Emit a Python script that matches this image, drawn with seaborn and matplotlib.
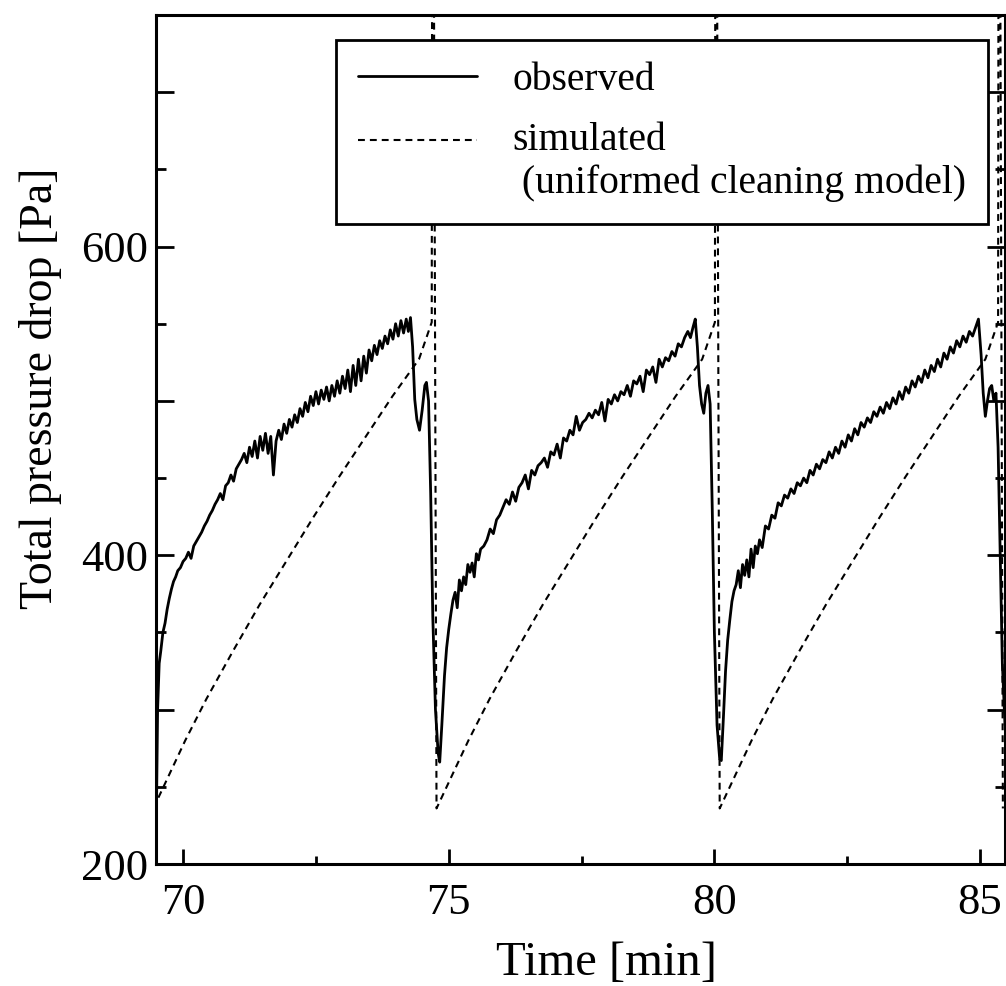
import matplotlib
matplotlib.use("Agg")
import matplotlib.pyplot as plt
from matplotlib.lines import Line2D
from matplotlib.legend_handler import HandlerLine2D
from matplotlib.ticker import MultipleLocator
import numpy as np
import pandas as pd
import seaborn as sns

# ---------------- data ----------------
obs_time = [
    # cycle 1
    69.50, 69.52, 69.55, 69.58, 69.62, 69.66, 69.70, 69.74, 69.78, 69.82, 69.86, 69.90, 69.95,
    70.00, 70.05, 70.10, 70.15, 70.20, 70.25, 70.30, 70.35, 70.40, 70.45, 70.50, 70.55, 70.60,
    70.65, 70.70, 70.75, 70.80, 70.85, 70.90, 70.95, 71.00, 71.05, 71.10, 71.15, 71.20, 71.25,
    71.30, 71.35, 71.40, 71.45, 71.50, 71.55, 71.60, 71.65, 71.70, 71.75, 71.80, 71.85, 71.90,
    71.95, 72.00, 72.05, 72.10, 72.15, 72.20, 72.25, 72.30, 72.35, 72.40, 72.45, 72.50, 72.55,
    72.60, 72.65, 72.70, 72.75, 72.80, 72.85, 72.90, 72.95, 73.00, 73.05, 73.10, 73.15, 73.20,
    73.25, 73.30, 73.35, 73.40, 73.45, 73.50, 73.55, 73.60, 73.65, 73.70, 73.75, 73.80, 73.85,
    73.90, 73.95, 74.00, 74.05, 74.10, 74.15, 74.20, 74.24, 74.28,
    74.32, 74.36, 74.40, 74.45, 74.50, 74.55, 74.58, 74.62, 74.66, 74.70, 74.75, 74.80, 74.83,
    # cycle 2
    74.87, 74.92, 74.96, 75.00, 75.04, 75.08, 75.12, 75.16, 75.20, 75.24, 75.28, 75.32, 75.36,
    75.40, 75.44, 75.48, 75.52, 75.56, 75.60, 75.66, 75.72, 75.78, 75.84, 75.90, 75.96, 76.02,
    76.08, 76.14, 76.20, 76.26, 76.32, 76.38, 76.44, 76.50, 76.56, 76.62, 76.68, 76.74, 76.80,
    76.86, 76.92, 76.98, 77.04, 77.10, 77.16, 77.22, 77.28, 77.34, 77.40, 77.46, 77.52, 77.58,
    77.64, 77.70, 77.76, 77.82, 77.88, 77.94, 78.00, 78.06, 78.12, 78.18, 78.24, 78.30, 78.36,
    78.42, 78.48, 78.54, 78.60, 78.66, 78.72, 78.78, 78.84, 78.90, 78.96, 79.02, 79.08, 79.14,
    79.20, 79.26, 79.32, 79.38, 79.44, 79.50, 79.55, 79.60, 79.64,
    79.68, 79.72, 79.76, 79.80, 79.84, 79.88, 79.92, 79.96, 80.00, 80.05, 80.10, 80.13,
    # cycle 3
    80.17, 80.21, 80.25, 80.29, 80.33, 80.37, 80.41, 80.45, 80.49, 80.53, 80.57, 80.61, 80.65,
    80.69, 80.73, 80.77, 80.81, 80.85, 80.90, 80.96, 81.02, 81.08, 81.14, 81.20, 81.26, 81.32,
    81.38, 81.44, 81.50, 81.56, 81.62, 81.68, 81.74, 81.80, 81.86, 81.92, 81.98, 82.04, 82.10,
    82.16, 82.22, 82.28, 82.34, 82.40, 82.46, 82.52, 82.58, 82.64, 82.70, 82.76, 82.82, 82.88,
    82.94, 83.00, 83.06, 83.12, 83.18, 83.24, 83.30, 83.36, 83.42, 83.48, 83.54, 83.60, 83.66,
    83.72, 83.78, 83.84, 83.90, 83.96, 84.02, 84.08, 84.14, 84.20, 84.26, 84.32, 84.38, 84.44,
    84.50, 84.56, 84.62, 84.68, 84.74, 84.80, 84.86, 84.92, 84.97,
    85.02, 85.06, 85.10, 85.14, 85.18, 85.22, 85.26, 85.30, 85.34, 85.38, 85.42, 85.47,
]
obs_drop = [
    # cycle 1
    240, 300, 330, 338, 350, 356, 365, 372, 378, 383, 386, 390, 392,
    396, 398, 402, 398, 406, 409, 412, 415, 419, 422, 426, 429, 433,
    436, 440, 436, 445, 447, 452, 448, 456, 459, 462, 466, 460, 470,
    464, 474, 463, 477, 468, 479, 466, 477, 452, 474, 481, 475, 485,
    479, 488, 483, 491, 486, 495, 490, 499, 493, 503, 497, 506, 498,
    507, 501, 509, 500, 510, 503, 513, 505, 516, 508, 520, 506, 523,
    510, 527, 513, 529, 518, 533, 526, 536, 530, 539, 534, 542, 537,
    546, 540, 550, 542, 552, 544, 553, 545, 554,
    535, 501, 488, 481, 494, 510, 512, 500, 440, 360, 300, 272, 266,
    # cycle 2
    290, 322, 340, 352, 362, 371, 376, 366, 384, 377, 386, 381, 394,
    389, 395, 386, 401, 397, 404, 406, 410, 417, 414, 423, 426, 431,
    436, 433, 441, 435, 444, 447, 452, 443, 455, 452, 458, 460, 463,
    457, 467, 465, 472, 463, 476, 474, 481, 478, 490, 481, 486, 488,
    492, 489, 494, 491, 499, 487, 501, 498, 504, 500, 506, 504, 510,
    503, 513, 511, 516, 506, 520, 517, 522, 512, 527, 522, 528, 526,
    532, 529, 537, 535, 541, 545, 541, 548, 553,
    535, 510, 498, 492, 505, 510, 498, 430, 350, 290, 268, 267,
    # cycle 3
    295, 325, 345, 358, 370, 377, 381, 390, 379, 394, 387, 397, 386,
    404, 392, 406, 401, 410, 405, 419, 417, 426, 424, 434, 432, 439,
    437, 443, 440, 447, 445, 450, 447, 455, 452, 459, 456, 462, 460,
    467, 463, 470, 466, 474, 470, 478, 474, 482, 478, 486, 483, 489,
    486, 493, 490, 496, 492, 499, 495, 502, 498, 506, 501, 509, 505,
    513, 509, 516, 512, 520, 515, 523, 519, 527, 522, 531, 527, 535,
    531, 539, 535, 542, 538, 545, 542, 548, 553,
    530, 505, 490, 500, 508, 510, 500, 505, 470, 400, 330, 290,
]

# simulated (uniformed cleaning model): one filtration cycle profile
sim_offset = [0.00, 0.30, 0.60, 1.00, 1.50, 2.00, 2.50, 3.00, 3.50, 4.00, 4.50, 5.00, 5.24]
sim_value = [236, 258, 280, 307, 338, 368, 396, 424, 451, 477, 503, 527, 551]
# cleaning pulse: jump up past the top of the axis, then back to the start value
pulse_offset = [5.25, 5.27, 5.33]
pulse_value = [900, 900, 236]
cycle_start = [69.44, 74.77, 80.10]

# ---------------- build long tables ----------------
obs_df = pd.DataFrame({"time": obs_time, "drop": obs_drop})
sim_t, sim_p = [], []
for c in cycle_start:
    sim_t += [c + o for o in sim_offset + pulse_offset]
    sim_p += sim_value + pulse_value
sim_df = pd.DataFrame({"time": sim_t, "drop": sim_p})

# ---------------- style ----------------
sns.set_theme(style="ticks")
plt.rcParams["font.family"] = ["Liberation Serif", "DejaVu Serif"]
plt.rcParams["axes.edgecolor"] = "black"
plt.rcParams["text.color"] = "black"
plt.rcParams["xtick.color"] = "black"
plt.rcParams["ytick.color"] = "black"
plt.rcParams["axes.labelcolor"] = "black"

fig = plt.figure(figsize=(10.06, 9.86), dpi=100)
ax = fig.add_axes([156 / 1006, 1 - 864 / 986, (1005 - 156) / 1006, (864 - 15) / 986])

dash = (0, (3.3, 2.4))
sns.lineplot(data=obs_df, x="time", y="drop", ax=ax, color="black", lw=2.0,
             sort=False, estimator=None)
sns.lineplot(data=sim_df, x="time", y="drop", ax=ax, color="black", lw=1.5,
             sort=False, estimator=None, linestyle=dash)

ax.set_xlim(69.49, 85.47)
ax.set_ylim(200, 750)

ax.set_xticks([70, 75, 80, 85])
ax.xaxis.set_minor_locator(MultipleLocator(2.5))
ax.set_yticks([200, 300, 400, 500, 600, 700])
ax.set_yticklabels(["200", "", "400", "", "600", ""])
ax.yaxis.set_minor_locator(MultipleLocator(50))

ax.tick_params(axis="both", which="both", direction="in", width=2, colors="black")
ax.tick_params(axis="y", which="major", length=13, right=True, labelsize=32, pad=6)
ax.tick_params(axis="y", which="minor", length=7, right=True)
ax.tick_params(axis="x", which="major", length=11, labelsize=32, pad=14)
ax.tick_params(axis="x", which="minor", length=6)
for s in ax.spines.values():
    s.set_linewidth(2.2)
    s.set_color("black")

ax.set_xlabel("Time [min]", fontsize=35)
ax.set_ylabel("Total pressure drop [Pa]", fontsize=33)
ax.xaxis.set_label_coords((607 - 156) / 849, -(941 - 864) / 849)
ax.yaxis.set_label_coords(-(156 - 62) / 849, (864 - 388) / 849)


class HandlerFirstLine(HandlerLine2D):
    """Draw the legend line beside the first line of a two-line label."""

    def __init__(self, shift, **kw):
        super().__init__(**kw)
        self.shift = shift

    def create_artists(self, legend, orig_handle, xdescent, ydescent, width, height,
                       fontsize, trans):
        arts = super().create_artists(legend, orig_handle, xdescent, ydescent, width,
                                      height, fontsize, trans)
        for a in arts:
            a.set_ydata(np.asarray(a.get_ydata()) + self.shift)
        return arts


h_obs = Line2D([], [], color="black", lw=2.0)
h_sim = Line2D([], [], color="black", lw=1.5, linestyle=dash)
leg = ax.legend([h_obs, h_sim], ["observed", "simulated\n (uniformed cleaning model)"],
                loc="upper right", bbox_to_anchor=(0.98, 0.9706),
                borderaxespad=0, frameon=True, fancybox=False, framealpha=1,
                edgecolor="black", facecolor="white", fontsize=28.5,
                handlelength=3.0, handletextpad=0.9, labelspacing=0.6,
                borderpad=0.55,
                handler_map={h_sim: HandlerFirstLine(shift=16)})
leg.get_frame().set_linewidth(2)
for t in leg.get_texts():
    t.set_linespacing(1.17)

fig.savefig("out.png", dpi=100)
